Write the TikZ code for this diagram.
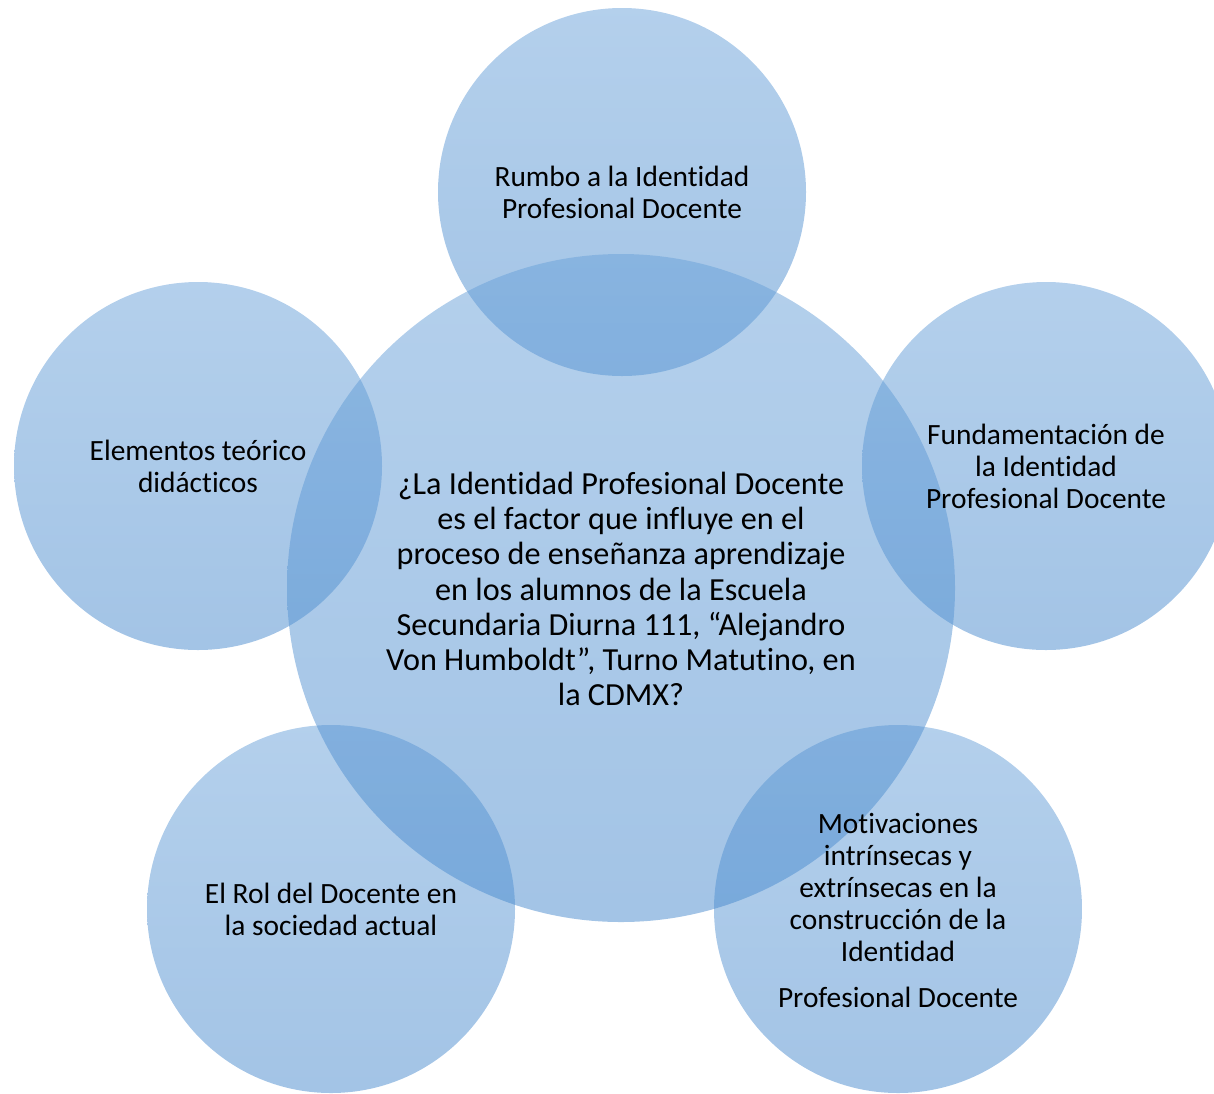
\documentclass[tikz,border=0pt]{standalone}
\usepackage{fontspec}
\setmainfont{Carlito}[Ligatures=NoCommon]
\definecolor{bubtop}{RGB}{105,161,217}
\definecolor{bubbot}{RGB}{71,137,205}
\tikzset{
  bubble/.style={circle,draw=none,inner sep=0pt,top color=bubtop,bottom color=bubbot,fill opacity=0.5},
  small/.style={bubble,minimum size=184pt},
  big/.style={bubble,minimum size=334pt},
  btext/.style={align=center,font=\fontsize{14.7}{16}\selectfont,text=black},
  ctext/.style={align=center,font=\fontsize{16.1}{17.6}\selectfont,text=black}
}
\begin{document}
\begin{tikzpicture}[x=0.5pt,y=-0.5pt]
\useasboundingbox (0,0) rectangle (1214,1093);
% circles
\node[small] (rumbo) at (622,192) {};
\node[small] (elementos) at (198,466) {};
\node[small] (fundamentacion) at (1046,466) {};
\node[small] (rol) at (331,909) {};
\node[small] (motivaciones) at (898,909) {};
\node[big] (pregunta) at (621,588) {};
% texts
\node[btext] (rumbo-t) at (rumbo) {Rumbo a la Identidad\\Profesional Docente};
\node[btext] (elementos-t) at (elementos) {Elementos teórico\\didácticos};
\node[btext] (fundamentacion-t) at (fundamentacion) {Fundamentación de\\la Identidad\\Profesional Docente};
\node[btext] (rol-t) at (rol) {El Rol del Docente en\\la sociedad actual};
\node[btext] (motivaciones-t) at (898,910) {Motivaciones\\intrínsecas y\\extrínsecas en la\\construcción de la\\Identidad\\[7pt]Profesional Docente};
\node[ctext] (pregunta-t) at (621,589) {¿La Identidad Profesional Docente\\es el factor que influye en el\\proceso de enseñanza aprendizaje\\en los alumnos de la Escuela\\Secundaria Diurna 111, “Alejandro\\Von Humboldt”, Turno Matutino, en\\la CDMX?};
\end{tikzpicture}
\end{document}
